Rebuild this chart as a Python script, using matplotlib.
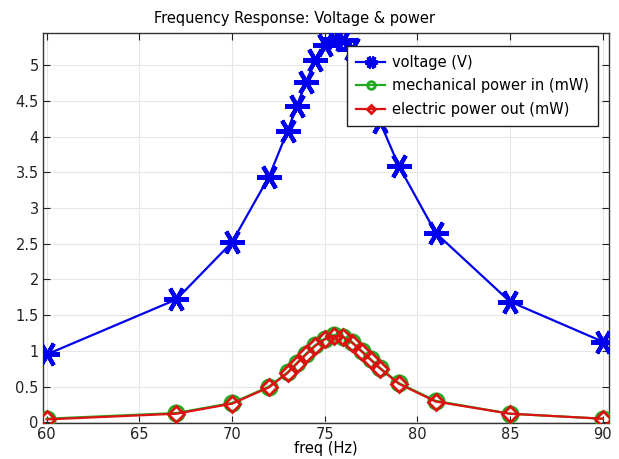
import matplotlib
matplotlib.use("Agg")
import matplotlib.pyplot as plt

freq = [60, 67, 70, 72, 73, 73.5, 74, 74.5, 75, 75.5, 76, 76.5, 77, 77.5, 78, 79, 81, 85, 90]
voltage = [0.95, 1.72, 2.52, 3.44, 4.08, 4.43, 4.77, 5.07, 5.28, 5.37, 5.35, 5.22, 4.97, 4.62, 4.20, 3.59, 2.65, 1.69, 1.13]
mech_power = [0.05, 0.13, 0.27, 0.50, 0.70, 0.83, 0.96, 1.08, 1.17, 1.22, 1.20, 1.12, 1.00, 0.88, 0.76, 0.55, 0.30, 0.12, 0.05]
elec_power = [0.04, 0.12, 0.26, 0.49, 0.69, 0.82, 0.95, 1.07, 1.16, 1.21, 1.19, 1.11, 0.99, 0.87, 0.75, 0.54, 0.29, 0.12, 0.05]

xticks = [60, 65, 70, 75, 80, 85, 90]
yticks = [0, 0.5, 1, 1.5, 2, 2.5, 3, 3.5, 4, 4.5, 5]
yticklabels = ["0", "0.5", "1", "1.5", "2", "2.5", "3", "3.5", "4", "4.5", "5"]

fig = plt.figure(figsize=(6.19, 4.59), dpi=100)
ax = fig.add_axes([43/619, 1 - 423/459, (609-43)/619, (423-33)/459])

ax.plot(freq, voltage, color="#0000ee", lw=1.6, marker=(6, 2, 90), markersize=18,
        markeredgewidth=3, label="voltage (V)", zorder=3)
ax.plot(freq, mech_power, color="#22aa22", lw=1.6, marker="o", markersize=11,
        markerfacecolor="none", markeredgewidth=2, label="mechanical power in (mW)", zorder=3)
ax.plot(freq, elec_power, color="#dd1111", lw=1.6, marker="D", markersize=8,
        markerfacecolor="none", markeredgewidth=2, label="electric power out (mW)", zorder=4)

ax.set_xlim(59.8, 90.35)
ax.set_ylim(-0.01, 5.45)
ax.set_xticks(xticks)
ax.set_yticks(yticks)
ax.set_yticklabels(yticklabels)
ax.tick_params(direction="in", top=True, right=True, labelsize=10.5, length=5, pad=3, colors="#222222")
ax.grid(True, color="#e6e6e6", lw=0.8)
ax.set_axisbelow(True)
for s in ax.spines.values():
    s.set_color("#333333")
    s.set_linewidth(1.0)

ax.set_xlabel("freq (Hz)", fontsize=10.5, labelpad=-1)
fig.text(295/619, 1 - 18/459, "Frequency Response: Voltage & power", ha="center", va="center", fontsize=10.5)

leg = ax.legend(loc="upper right", bbox_to_anchor=(0.981, 0.967), borderaxespad=0, fontsize=10.5,
                fancybox=False, framealpha=1, edgecolor="#222222", borderpad=0.6, labelspacing=0.6,
                handlelength=2.0, handletextpad=0.5, markerscale=0.5)
leg.get_frame().set_linewidth(1.0)

fig.savefig("out.png", dpi=100)
